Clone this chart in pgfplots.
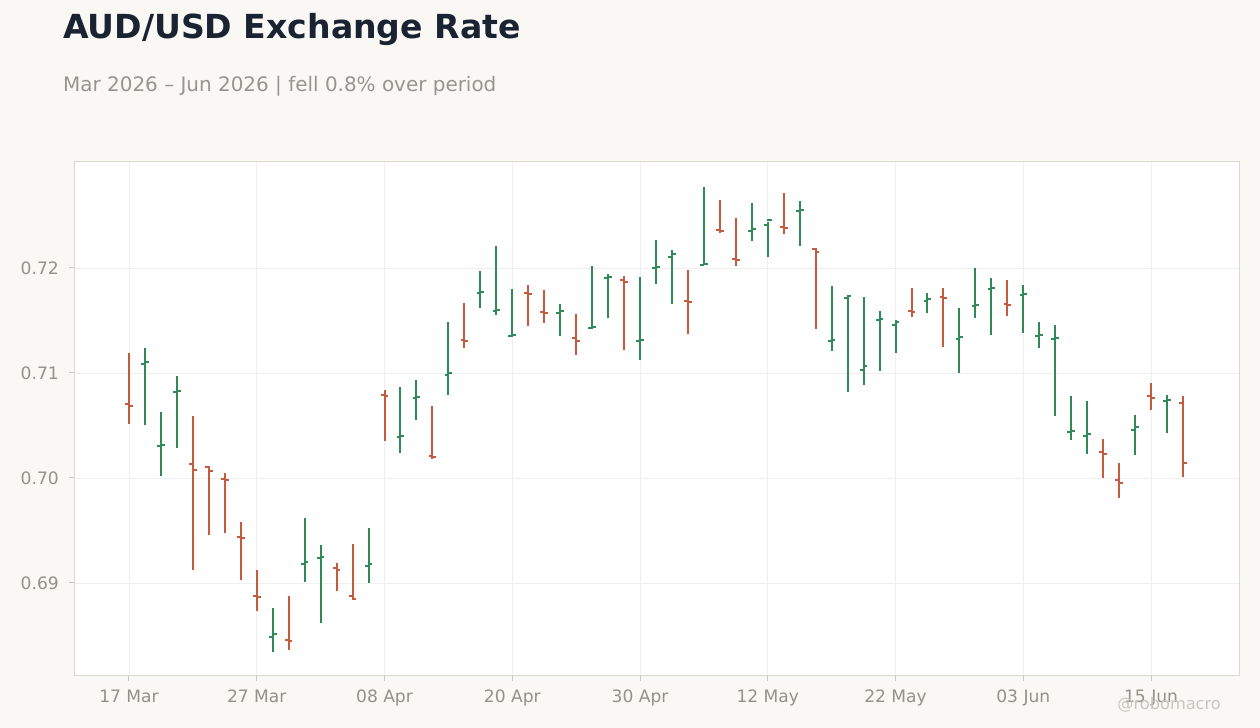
\documentclass[border=0pt]{standalone}
\usepackage{pgfplots}
\pgfplotsset{compat=1.18}
\usepackage{pgfplotstable}
\usepackage{fontspec}
\setmainfont{DejaVu Sans}
\definecolor{bg}{HTML}{F9F8F5}
\definecolor{upc}{HTML}{2E8B57}
\definecolor{dnc}{HTML}{C65A3C}
\definecolor{titlec}{HTML}{1A2332}
\definecolor{subc}{HTML}{999490}
\definecolor{labc}{HTML}{959089}
\definecolor{axc}{HTML}{DDD8CF}
\definecolor{gridc}{HTML}{EFEFEF}
\definecolor{wmc}{HTML}{C8C5C0}

\pgfdeclareplotmark{otick}{\pgfpathmoveto{\pgfqpoint{-3.8bp}{0pt}}\pgfpathlineto{\pgfqpoint{0.5bp}{0pt}}\pgfusepathqstroke}
\pgfdeclareplotmark{ctick}{\pgfpathmoveto{\pgfqpoint{-0.5bp}{0pt}}\pgfpathlineto{\pgfqpoint{3.8bp}{0pt}}\pgfusepathqstroke}

% x = trading-day index from 17 Mar 2026
\pgfplotstableread{
x  o      h      l      c
1  0.7109 0.7124 0.7050 0.7110
2  0.7030 0.7063 0.7002 0.7031
3  0.7082 0.7097 0.7029 0.7083
9  0.6849 0.6876 0.6834 0.6851
11 0.6918 0.6962 0.6901 0.6920
12 0.6924 0.6936 0.6862 0.6925
15 0.6916 0.6952 0.6900 0.6918
17 0.7039 0.7087 0.7024 0.7040
18 0.7076 0.7093 0.7055 0.7077
20 0.7098 0.7149 0.7079 0.7100
22 0.7176 0.7197 0.7162 0.7177
23 0.7159 0.7221 0.7155 0.7160
24 0.7135 0.7180 0.7135 0.7136
27 0.7157 0.7166 0.7135 0.7159
29 0.7143 0.7202 0.7143 0.7144
30 0.7190 0.7194 0.7152 0.7191
32 0.7130 0.7191 0.7112 0.7131
33 0.7200 0.7227 0.7185 0.7201
34 0.7210 0.7217 0.7166 0.7213
36 0.7203 0.7277 0.7203 0.7204
39 0.7235 0.7262 0.7226 0.7237
40 0.7241 0.7244 0.7210 0.7246
42 0.7254 0.7264 0.7221 0.7255
44 0.7130 0.7183 0.7121 0.7131
45 0.7171 0.7174 0.7082 0.7173
46 0.7103 0.7172 0.7089 0.7107
47 0.7150 0.7159 0.7102 0.7151
48 0.7146 0.7150 0.7119 0.7149
50 0.7169 0.7176 0.7157 0.7170
52 0.7132 0.7162 0.7100 0.7134
53 0.7164 0.7200 0.7152 0.7165
54 0.7180 0.7190 0.7136 0.7181
56 0.7174 0.7184 0.7138 0.7175
57 0.7135 0.7149 0.7124 0.7136
58 0.7132 0.7146 0.7059 0.7133
59 0.7044 0.7078 0.7036 0.7045
60 0.7040 0.7073 0.7023 0.7042
63 0.7046 0.7060 0.7022 0.7049
65 0.7073 0.7079 0.7043 0.7074
}\up

\pgfplotstableread{
x  o      h      l      c
0  0.7070 0.7119 0.7051 0.7069
4  0.7013 0.7059 0.6912 0.7008
5  0.7010 0.7011 0.6946 0.7007
6  0.6999 0.7005 0.6948 0.6998
7  0.6944 0.6958 0.6903 0.6943
8  0.6888 0.6912 0.6873 0.6887
10 0.6846 0.6888 0.6836 0.6845
13 0.6914 0.6919 0.6892 0.6912
14 0.6888 0.6937 0.6885 0.6885
16 0.7079 0.7084 0.7035 0.7078
19 0.7021 0.7069 0.7018 0.7020
21 0.7131 0.7167 0.7124 0.7130
25 0.7176 0.7184 0.7145 0.7175
26 0.7158 0.7179 0.7148 0.7157
28 0.7133 0.7156 0.7117 0.7130
31 0.7189 0.7192 0.7122 0.7187
35 0.7169 0.7198 0.7137 0.7168
37 0.7236 0.7265 0.7233 0.7235
38 0.7209 0.7248 0.7202 0.7208
41 0.7239 0.7271 0.7232 0.7238
43 0.7218 0.7219 0.7142 0.7215
49 0.7159 0.7181 0.7153 0.7158
51 0.7172 0.7181 0.7125 0.7171
55 0.7166 0.7189 0.7154 0.7165
61 0.7025 0.7037 0.7000 0.7023
62 0.6998 0.7014 0.6981 0.6995
64 0.7078 0.7090 0.7065 0.7076
66 0.7071 0.7078 0.7001 0.7014
}\down

\begin{document}
\begin{tikzpicture}
\fill[bg] (0,0) rectangle (1260bp,728bp);
\begin{axis}[
  at={(74bp,52bp)}, anchor=south west,
  scale only axis, width=1165bp, height=514bp,
  xmin=-3.444, xmax=69.51, ymin=0.681143, ymax=0.730095,
  axis background/.style={fill=white},
  xtick={0,8,16,24,32,40,48,56,64},
  xticklabels={17 Mar,27 Mar,08 Apr,20 Apr,30 Apr,12 May,22 May,03 Jun,15 Jun},
  ytick={0.69,0.70,0.71,0.72},
  /pgf/number format/assume math mode=true,
  scaled y ticks=false,
  grid=major, major grid style={draw=gridc, line width=0.8bp},
  axis line style={draw=axc, line width=1bp},
  tick align=outside, tick pos=left, major tick length=5bp,
  tick style={draw=axc!80!gray, line width=1bp},
  ticklabel style={font=\fontsize{17.1bp}{20bp}\selectfont, text=labc},
  xticklabel style={inner sep=0pt, yshift=-9bp},
  yticklabel style={inner sep=0pt, xshift=-10bp, /pgf/number format/fixed, /pgf/number format/fixed zerofill, /pgf/number format/precision=2},
]
% high-low lines
\addplot[draw=none, mark=none, forget plot,
  error bars/.cd, y dir=plus, y explicit, error mark=none,
  error bar style={draw=upc, line width=2bp, solid}]
  table[x=x, y=l, y error plus expr=\thisrow{h}-\thisrow{l}] {\up};
\addplot[draw=none, mark=none, forget plot,
  error bars/.cd, y dir=plus, y explicit, error mark=none,
  error bar style={draw=dnc, line width=2bp, solid}]
  table[x=x, y=l, y error plus expr=\thisrow{h}-\thisrow{l}] {\down};
% open ticks
\addplot[only marks, mark=otick, mark options={draw=upc, line width=2bp, solid}] table[x=x, y=o] {\up};
\addplot[only marks, mark=ctick, mark options={draw=upc, line width=2bp, solid}] table[x=x, y=c] {\up};
\addplot[only marks, mark=otick, mark options={draw=dnc, line width=2bp, solid}] table[x=x, y=o] {\down};
\addplot[only marks, mark=ctick, mark options={draw=dnc, line width=2bp, solid}] table[x=x, y=c] {\down};
\end{axis}
\node[anchor=base west, inner sep=0pt, text=titlec, font=\fontsize{33.1bp}{40bp}\selectfont\bfseries] at (63bp,689bp) {AUD/USD Exchange Rate};
\node[anchor=base west, inner sep=0pt, text=subc, font=\fontsize{19.95bp}{24bp}\selectfont] at (63bp,636bp) {Mar 2026 – Jun 2026 | fell 0.8\% over period};
\node[anchor=base east, inner sep=0pt, text=wmc, font=\fontsize{16.2bp}{20bp}\selectfont] at (1221bp,19bp) {@robomacro};
\end{tikzpicture}
\end{document}
